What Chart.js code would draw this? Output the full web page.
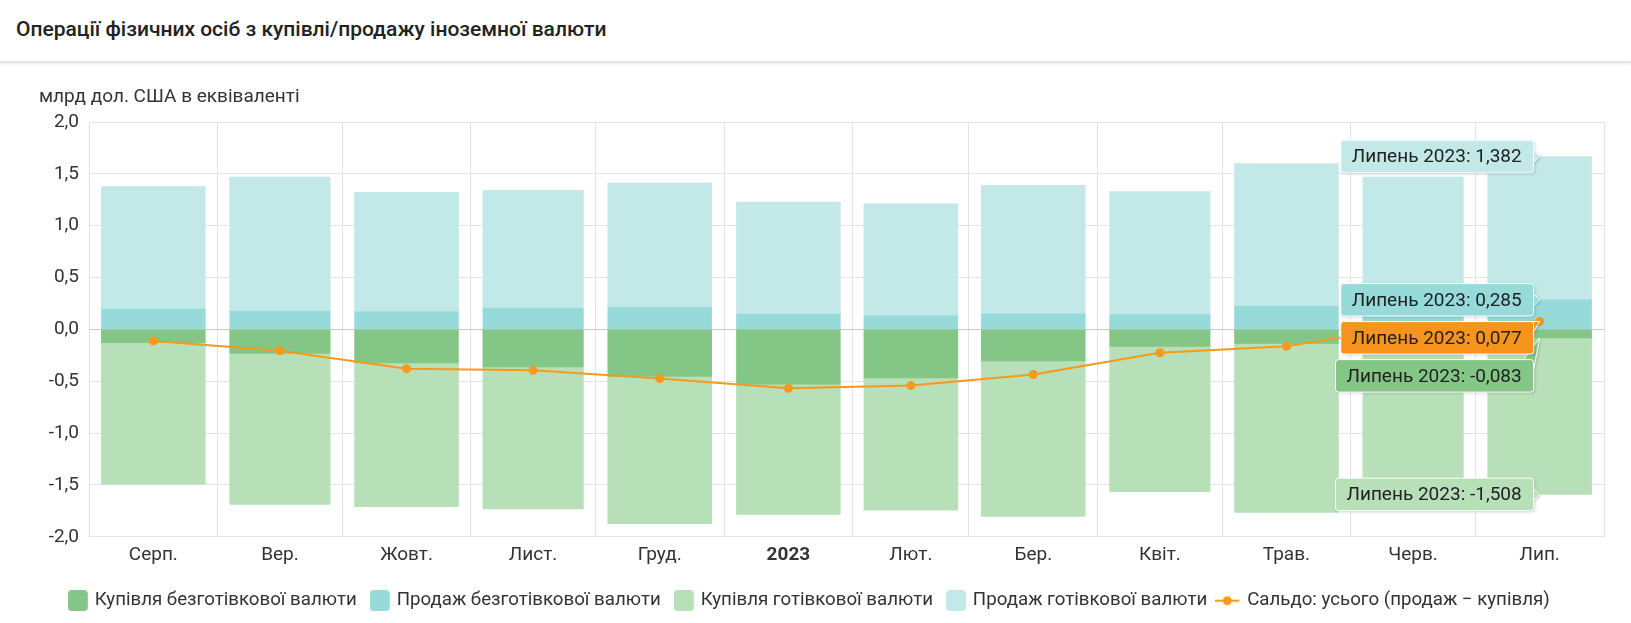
<!DOCTYPE html>
<html><head><meta charset="utf-8">
<script src="https://cdn.jsdelivr.net/npm/chart.js@4.4.0/dist/chart.umd.min.js"></script>
<style>
html,body{margin:0;padding:0;background:#fff;width:1631px;height:623px;overflow:hidden;font-family:Roboto,sans-serif;}
#hdr{position:absolute;left:0;top:0;width:1631px;height:61px;border-bottom:2px solid #e4e4e4;box-shadow:0 1px 3px rgba(0,0,0,0.08);}
#hdr h1{margin:0;position:absolute;left:16px;top:0;line-height:58px;font-size:21px;font-weight:500;color:#222;white-space:nowrap;}
#wrap{position:absolute;left:0;top:64px;width:1631px;height:562px;}
</style></head><body>
<div id="hdr"><h1>Операції фізичних осіб з купівлі/продажу іноземної валюти</h1></div>
<div id="wrap"><canvas id="c" width="1631" height="562"></canvas></div>
<script>
// ---- data (Aug 2022 .. Jul 2023), bn USD equivalent ----
const monthLabels = ['Серп.', 'Вер.', 'Жовт.', 'Лист.', 'Груд.', '2023', 'Лют.', 'Бер.', 'Квіт.', 'Трав.', 'Черв.', 'Лип.'];
const monthDays = [31, 30, 31, 30, 31, 31, 28, 31, 30, 31, 30, 31];
const buyNoncash  = [-0.127, -0.232, -0.324, -0.363, -0.454, -0.529, -0.467, -0.304, -0.163, -0.134, -0.090, -0.083];
const sellNoncash = [0.196, 0.176, 0.173, 0.206, 0.216, 0.147, 0.131, 0.150, 0.144, 0.225, 0.240, 0.285];
const buyCash     = [-1.366, -1.455, -1.385, -1.367, -1.420, -1.255, -1.277, -1.500, -1.401, -1.630, -1.345, -1.508];
const sellCash    = [1.181, 1.294, 1.149, 1.135, 1.196, 1.080, 1.079, 1.240, 1.186, 1.375, 1.230, 1.382];
const saldo       = [-0.111, -0.206, -0.379, -0.395, -0.474, -0.567, -0.542, -0.435, -0.225, -0.163, 0.030, 0.077];
const yTickValues = [-2.0, -1.5, -1.0, -0.5, 0.0, 0.5, 1.0, 1.5, 2.0];
const seriesNames = ['Купівля безготівкової валюти', 'Продаж безготівкової валюти', 'Купівля готівкової валюти', 'Продаж готівкової валюти', 'Сальдо: усього (продаж − купівля)'];
const unitLabel = 'млрд дол. США в еквіваленті';
const tipTitle = 'Липень 2023';
const tipIndex = 11;

const colors = {buyNon: '#83c686', sellNon: '#97dada', buyCash: '#b7dfb8', sellCash: '#c3e8e8', saldo: '#f7991c'};
const FONT = 'Roboto';

// month geometry in days (time axis as day offsets from 1 Aug 2022)
const monthStart = []; let acc = 0;
monthDays.forEach(d => { monthStart.push(acc); acc += d; });
const axisMax = acc;
const monthMid = monthStart.map((s, i) => s + monthDays[i] / 2);

// each month value sits at mid-month; flanking null points (1.25 month-lengths away, never
// coinciding with a real mid-month key) let Chart.js 'flex' sizing make every bar
// proportional to its own month length
const FLANK = 1.25;
function barSeries(values) {
  const out = [];
  values.forEach((v, i) => {
    const c = monthMid[i], L = monthDays[i] * FLANK;
    out.push({x: c - L, y: null}, {x: c, y: v}, {x: c + L, y: null});
  });
  return out;
}
const barIdx = k => 3 * k + 1;
const fmt3 = v => v.toFixed(3).replace('.', ',');
const fmt1 = v => v.toFixed(1).replace('.', ',');

function boxMarker(color) {
  const c = document.createElement('canvas'); c.width = 22; c.height = 21;
  const g = c.getContext('2d'); g.fillStyle = color; g.beginPath(); g.roundRect(0, 0, 20, 21, 4); g.fill();
  return c;
}
function lineMarker(color) {
  const c = document.createElement('canvas'); c.width = 32; c.height = 12;
  const g = c.getContext('2d'); g.strokeStyle = color; g.lineWidth = 2;
  g.beginPath(); g.moveTo(0, 6); g.lineTo(24, 6); g.stroke();
  g.fillStyle = color; g.beginPath(); g.arc(12, 6, 4.5, 0, Math.PI * 2); g.fill();
  return c;
}

const unitPlugin = {
  id: 'unitText',
  afterDraw(chart) {
    const ctx = chart.ctx, a = chart.chartArea;
    ctx.save();
    ctx.font = '19px ' + FONT; ctx.fillStyle = '#333'; ctx.textAlign = 'left'; ctx.textBaseline = 'middle';
    ctx.fillText(unitLabel, a.left - 50, a.top - 25);
    ctx.restore();
  }
};

const tipPlugin = {
  id: 'splitTip',
  afterDraw(chart) {
    const ctx = chart.ctx;
    const items = [];
    chart.data.datasets.forEach((ds, i) => {
      const meta = chart.getDatasetMeta(i);
      const el = meta.data[ds.type === 'line' ? tipIndex : barIdx(tipIndex)];
      items.push({x: el.x, y: el.y, color: ds.tipColor, text: tipTitle + ': ' + fmt3(ds.values[tipIndex])});
    });
    items.sort((a, b) => a.y - b.y);
    const h = 32.5, gap = 5.5;
    let prevBottom = -Infinity;
    items.forEach(it => {
      it.top = Math.max(it.y - h / 2, prevBottom + gap);
      prevBottom = it.top + h;
    });
    ctx.save();
    ctx.font = '19px ' + FONT;
    for (let j = items.length - 1; j >= 0; j--) {
      const it = items[j];
      const tw = ctx.measureText(it.text).width;
      const right = it.x - 6, w = tw + 23, left = right - w, top = it.top, bottom = top + h;
      ctx.beginPath();
      ctx.roundRect(left, top, w, h, 3);
      if (it.y >= top + 7 && it.y <= bottom - 7) {
        ctx.moveTo(right, it.y - 6); ctx.lineTo(it.x, it.y); ctx.lineTo(right, it.y + 6);
      } else if (it.y < top + 7) {
        ctx.moveTo(right - 10, top); ctx.lineTo(it.x, it.y); ctx.lineTo(right, top + 10);
      } else {
        ctx.moveTo(right - 10, bottom); ctx.lineTo(it.x, it.y); ctx.lineTo(right, bottom - 10);
      }
      ctx.shadowColor = 'rgba(0,0,0,0.22)'; ctx.shadowBlur = 3; ctx.shadowOffsetX = 1; ctx.shadowOffsetY = 1;
      ctx.fillStyle = it.color; ctx.fill();
      ctx.shadowColor = 'transparent';
      ctx.strokeStyle = '#ffffff'; ctx.lineWidth = 1; ctx.stroke();
      ctx.fillStyle = '#222'; ctx.textAlign = 'left'; ctx.textBaseline = 'middle';
      ctx.fillText(it.text, left + 11, top + h / 2 + 1);
    }
    ctx.restore();
  }
};

const barCommon = {type: 'bar', barThickness: 'flex', categoryPercentage: 1 / FLANK, barPercentage: 0.807, borderWidth: 0};
const datasets = [
  Object.assign({label: seriesNames[0], data: barSeries(buyNoncash), values: buyNoncash, backgroundColor: colors.buyNon, tipColor: colors.buyNon}, barCommon),
  Object.assign({label: seriesNames[1], data: barSeries(sellNoncash), values: sellNoncash, backgroundColor: colors.sellNon, tipColor: colors.sellNon}, barCommon),
  Object.assign({label: seriesNames[2], data: barSeries(buyCash), values: buyCash, backgroundColor: colors.buyCash, tipColor: colors.buyCash}, barCommon),
  Object.assign({label: seriesNames[3], data: barSeries(sellCash), values: sellCash, backgroundColor: colors.sellCash, tipColor: colors.sellCash}, barCommon),
  {type: 'line', label: seriesNames[4], data: saldo.map((v, i) => ({x: monthMid[i], y: v})), values: saldo,
   stack: 'saldo', order: -1, borderColor: colors.saldo, backgroundColor: colors.saldo, borderWidth: 2,
   pointRadius: 4.5, pointBorderWidth: 0, pointBackgroundColor: colors.saldo, tension: 0, tipColor: '#f7941d'}
];
const markers = [boxMarker(colors.buyNon), boxMarker(colors.sellNon), boxMarker(colors.buyCash), boxMarker(colors.sellCash), lineMarker(colors.saldo)];

new Chart(document.getElementById('c'), {
  data: {datasets},
  plugins: [unitPlugin, tipPlugin],
  options: {
    responsive: false, animation: false, events: [], devicePixelRatio: 1,
    layout: {padding: {top: 58, left: 18, right: 27, bottom: 6}},
    plugins: {
      tooltip: {enabled: false},
      legend: {
        position: 'bottom',
        labels: {
          usePointStyle: true, pointStyleWidth: 13, padding: 17.5, color: '#333',
          font: {family: FONT, size: 18.7},
          generateLabels: (chart) => chart.data.datasets.map((ds, i) => ({
            text: ds.label, pointStyle: markers[i], fillStyle: ds.backgroundColor,
            strokeStyle: 'transparent', lineWidth: 0, hidden: false, datasetIndex: i, fontColor: '#333'
          }))
        }
      }
    },
    scales: {
      x: {
        type: 'linear', min: 0, max: axisMax, stacked: true, position: 'bottom', offset: false,
        afterBuildTicks: s => { s.ticks = monthStart.concat([axisMax]).map(v => ({value: v})); },
        afterFit: s => { s.height = 0; },
        ticks: {display: false},
        grid: {color: '#e3e3e3', drawTicks: false, lineWidth: 1, offset: false},
        border: {color: '#e3e3e3'}
      },
      xl: {
        type: 'linear', min: 0, max: axisMax, position: 'bottom', offset: false,
        afterBuildTicks: s => { s.ticks = monthMid.map(v => ({value: v})); },
        afterFit: s => { s.height = 37; },
        grid: {display: false, drawTicks: false, offset: false},
        border: {display: false},
        ticks: {
          autoSkip: false, maxRotation: 0, minRotation: 0, padding: 7, color: '#333',
          callback: (v, i) => monthLabels[i],
          font: (c) => ({family: FONT, size: 19, weight: /^\d+$/.test(monthLabels[c.index] || '') ? 'bold' : 'normal'})
        }
      },
      y: {
        type: 'linear', min: -2, max: 2, stacked: true,
        afterBuildTicks: s => { s.ticks = yTickValues.map(v => ({value: v})); },
        afterFit: s => { s.width = 71; },
        ticks: {padding: 10, color: '#333', font: {family: FONT, size: 19}, callback: v => fmt1(v)},
        grid: {color: c => (c.tick && c.tick.value === 0 ? '#c9c9c9' : '#e3e3e3'), drawTicks: false},
        border: {display: false}
      }
    }
  }
});
</script>
</body></html>
